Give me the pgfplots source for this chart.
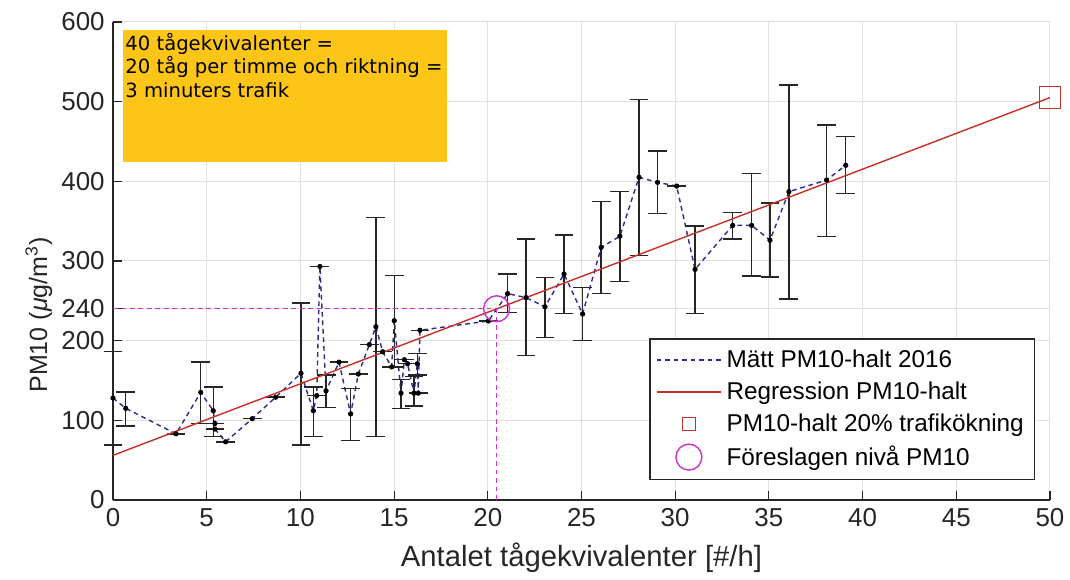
\documentclass[border=0pt]{standalone}
\usepackage{fontspec}
\setmainfont{Liberation Sans}
\newfontfamily\boxfont{DejaVu Sans}
\usepackage{pgfplots}
\usepackage{pgfplotstable}
\pgfplotsset{compat=1.18}
\definecolor{mattblue}{HTML}{2B2E8C}
\definecolor{regred}{HTML}{C8302A}
\definecolor{levelmag}{HTML}{CC33CC}
\definecolor{boxyellow}{HTML}{FDC517}
\definecolor{axgray}{HTML}{262626}

% x, y, error up, error down
\pgfplotstableread{
x y ep em
0 128 58 59
0.68 115 20.5 22
3.36 83 0 0
4.68 135 38 39
5.35 112 30 32.5
5.44 96 0 0
5.44 89 0 0
6.01 73 0 0
7.43 102 0 0
8.68 129 0 0
10.03 159 88 90
10.69 112 30 32.5
10.87 131 0 0
11.04 293 0 0
11.37 137 20 21
12.06 173 0 0
12.68 108 32 33.5
13.09 158 0 0
13.68 195 0 0
14.03 217.5 137 138
14.39 186 0 0
14.87 167 0 0
15.01 225 57 58
15.37 134 17 19
15.55 176 0 0
15.72 171 0 0
16.06 134 21 16
16.24 171 13 14
16.29 134 0 0
16.38 213 0 0
20.03 224.6 0 0
21.06 259 24.6 23.5
22.04 254 73.5 73
23.05 242.5 36.5 38.5
24.07 283.6 49 49.6
25.06 233.4 33.6 33.4
26.05 317 57.5 58
27.05 331 56 56.5
28.07 405 98 98
29.06 398.6 39.4 39
30.08 394 0 0
31.06 289.4 54.6 55.4
33.07 344.6 16.4 17
34.08 344.6 65.4 63.6
35.06 326 47 46
36.07 387 133.7 135
38.08 401.5 69 70.5
39.1 420 36 35.2
}\data

\begin{document}
\begin{tikzpicture}
\begin{axis}[
  scale only axis,
  width=397.1pt, height=202.6pt,
  xmin=0, xmax=50, ymin=0, ymax=600,
  xtick={0,5,...,50},
  ytick={0,100,200,240,300,400,500,600},
  axis x line*=bottom, axis y line*=left,
  axis line style={axgray, line width=0.5pt},
  every tick/.style={axgray, line width=0.5pt},
  major tick length=4pt,
  tick label style={font=\fontsize{11}{13}\selectfont, text=axgray},
  /pgf/number format/assume math mode=true,
  grid=major,
  grid style={black!12, line width=0.4pt},
  xlabel={Antalet tågekvivalenter [\#/h]},
  ylabel={PM10 (\textit{μ}g/m\textsuperscript{3})},
  xlabel style={font=\fontsize{12.4}{14}\selectfont, text=axgray},
  ylabel style={font=\fontsize{10.6}{12}\selectfont, text=axgray, at={(ticklabel cs:0.387)}, yshift=-3pt},
  clip=false,
  legend cell align=left,
  legend image code/.code={\draw[mark repeat=2,mark phase=2,#1] plot coordinates {(0cm,0cm) (0.48cm,0cm) (0.96cm,0cm)};},
  legend style={at={(0.984,0.042)}, anchor=south east, draw=axgray, line width=0.5pt,
    font=\fontsize{10.3}{12.4}\selectfont, row sep=0.6pt, inner sep=2.5pt},
]
\fill[boxyellow] (axis cs:0.53,424) rectangle (axis cs:17.8,590);
\node[anchor=north west, inner sep=0, align=left, font=\boxfont\fontsize{8.3}{9.8}\selectfont]
  at (axis cs:0.64,586) {40 tågekvivalenter =\\20 tåg per timme och riktning =\\3 minuters trafik};

\addplot[mattblue, dash pattern=on 2pt off 1.6pt, line width=0.6pt] table[x=x, y=y] {\data};
\addlegendentry{Mätt PM10-halt 2016}

\addplot[forget plot, only marks, mark=*, mark size=0.9pt, black,
  error bars/.cd, y dir=both, y explicit,
  error bar style={line width=0.6pt, black!85},
  error mark options={rotate=90, black!85, mark size=4pt, line width=0.6pt}]
  table[x=x, y=y, y error plus=ep, y error minus=em] {\data};

\addplot[regred, line width=0.6pt] coordinates {(0,56) (50,505)};
\addlegendentry{Regression PM10-halt}

\addplot[forget plot, levelmag, dash pattern=on 2pt off 1.6pt, line width=0.6pt] coordinates {(0,240) (20.47,240)};
\addplot[forget plot, levelmag, dash pattern=on 2pt off 1.6pt, line width=0.6pt] coordinates {(20.47,0) (20.47,240)};

\addplot[only marks, mark=square, mark size=4.6pt, regred, mark options={line width=0.5pt},
  legend image post style={mark size=2.8pt}] coordinates {(50,505)};
\addlegendentry{PM10-halt 20\% trafikökning}

\addplot[only marks, mark=o, mark size=5.5pt, levelmag, mark options={line width=0.6pt}] coordinates {(20.47,240)};
\addlegendentry{Föreslagen nivå PM10}
\end{axis}
\pgfresetboundingbox
\path ([shift={(-47.9pt,-33.9pt)}]current axis.south west) rectangle ([shift={(8.5pt,9.3pt)}]current axis.north east);
\end{tikzpicture}
\end{document}
